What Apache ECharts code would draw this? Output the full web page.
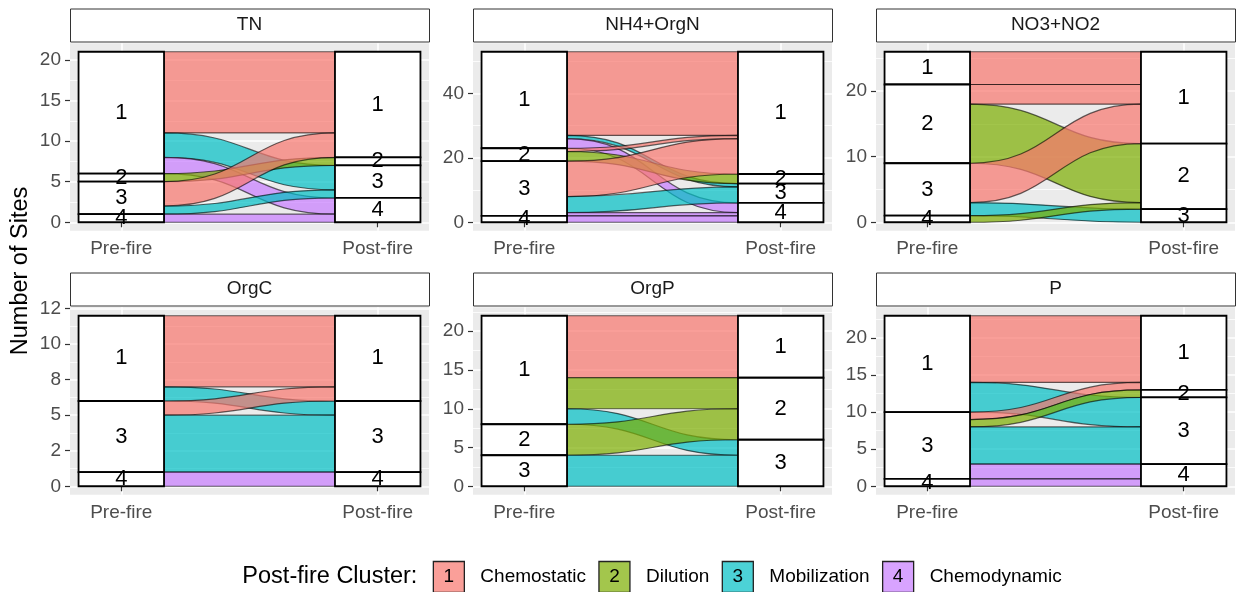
<!DOCTYPE html>
<html>
<head>
<meta charset="utf-8">
<script src="https://cdn.jsdelivr.net/npm/echarts@6/dist/echarts.min.js"></script>
<style>
  html, body { margin: 0; padding: 0; background: #ffffff; }
  #chart { width: 1236px; height: 592px; }
</style>
</head>
<body>
<div id="chart"></div>
<script>
// ---- data ----------------------------------------------------------------
const clusterIds = ['1', '2', '3', '4'];
const clusterNames = ['Chemostatic', 'Dilution', 'Mobilization', 'Chemodynamic'];
const stageLabels = ['Pre-fire', 'Post-fire'];
const facetNames = ['TN', 'NH4+OrgN', 'NO3+NO2', 'OrgC', 'OrgP', 'P'];

// number of sites going from each pre-fire cluster (rows 1..4)
// to each post-fire cluster (columns 1..4)
const movesTN   = [[10, 0, 3, 2], [0, 1, 0, 0], [3, 0, 1, 0], [0, 0, 0, 1]];
const movesNH4  = [[26, 0, 1, 3], [1, 3, 0, 0], [11, 0, 5, 1], [0, 0, 0, 2]];
const movesNO3  = [[5, 0, 0, 0], [3, 9, 0, 0], [6, 0, 2, 0], [0, 1, 0, 0]];
const movesOrgC = [[5, 0, 1, 0], [0, 0, 0, 0], [1, 0, 4, 0], [0, 0, 0, 1]];
const movesOrgP = [[8, 4, 2, 0], [0, 4, 0, 0], [0, 0, 4, 0], [0, 0, 0, 0]];
const movesP    = [[9, 0, 4, 0], [0, 0, 0, 0], [1, 1, 5, 2], [0, 0, 0, 1]];

// y-axis breaks and their printed labels
const ticksTN   = [0, 5, 10, 15, 20];
const ticksNH4  = [0, 20, 40];
const ticksNO3  = [0, 10, 20];
const ticksOrgC = [0, 2.5, 5, 7.5, 10, 12.5];
const tickLabelsOrgC = ['0', '2', '5', '8', '10', '12'];
const ticksOrgP = [0, 5, 10, 15, 20];
const ticksP    = [0, 5, 10, 15, 20];

// ---- styling & layout ----------------------------------------------------
const palette = ['#F8766D', '#7CAE00', '#00BFC4', '#C77CFF'];
const FONT = '"Liberation Sans", Arial, Helvetica, sans-serif';
const PANEL_BG = '#EBEBEB';
const colLeft = [70, 473, 876];
const rowTop = [43.2, 307.2];
const PANEL_W = 359;
const PANEL_H = 187.6;
const STRIP_H = 33;
const STRIP_GAP = 1.7;
const STRATUM_W = 1 / 3;
const TEXT_SIZE = 19;

function hexA(hex, a) {
  const n = parseInt(hex.slice(1), 16);
  return 'rgba(' + (n >> 16 & 255) + ',' + (n >> 8 & 255) + ',' + (n & 255) + ',' + a + ')';
}

const facets = [
  { moves: movesTN,   ticks: ticksTN,   labels: ticksTN.map(String) },
  { moves: movesNH4,  ticks: ticksNH4,  labels: ticksNH4.map(String) },
  { moves: movesNO3,  ticks: ticksNO3,  labels: ticksNO3.map(String) },
  { moves: movesOrgC, ticks: ticksOrgC, labels: tickLabelsOrgC },
  { moves: movesOrgP, ticks: ticksOrgP, labels: ticksOrgP.map(String) },
  { moves: movesP,    ticks: ticksP,    labels: ticksP.map(String) }
];

// Stack the strata (cluster 1 on top) and the flows inside them.
// item kinds: 0 = flow, 1 = stratum box, 2 = stratum label
function buildItems(m) {
  const n = m.length;
  const preTot = m.map(r => r.reduce((a, b) => a + b, 0));
  const postTot = m[0].map((_, j) => m.reduce((a, r) => a + r[j], 0));
  const preBase = [], postBase = [];
  let acc = 0;
  for (let k = n - 1; k >= 0; k--) { preBase[k] = acc; acc += preTot[k]; }
  const total = acc;
  acc = 0;
  for (let k = n - 1; k >= 0; k--) { postBase[k] = acc; acc += postTot[k]; }

  const flows = [], boxes = [], texts = [];
  for (let i = 0; i < n; i++) {
    for (let j = 0; j < n; j++) {
      const v = m[i][j];
      if (!v) continue;
      let lb = preBase[i];
      for (let jj = j + 1; jj < n; jj++) lb += m[i][jj];
      let rb = postBase[j];
      for (let ii = i + 1; ii < n; ii++) rb += m[ii][j];
      flows.push([0, lb, lb + v, rb, rb + v, j]);
    }
  }
  [[1, preTot, preBase], [2, postTot, postBase]].forEach(([x, tot, base]) => {
    for (let k = 0; k < n; k++) {
      if (!tot[k]) continue;
      boxes.push([1, x, base[k], base[k] + tot[k], k]);
      texts.push([2, x, base[k] + tot[k] / 2, 0, 0, k]);
    }
  });
  return { items: flows.concat(boxes, texts), total: total };
}

function renderItem(params, api) {
  const kind = api.value(0);
  if (kind === 0) {
    const x1 = 1 + STRATUM_W / 2, x2 = 2 - STRATUM_W / 2;
    const lt = api.coord([x1, api.value(2)]);
    const lb = api.coord([x1, api.value(1)]);
    const rt = api.coord([x2, api.value(4)]);
    const rb = api.coord([x2, api.value(3)]);
    const xm = (lt[0] + rt[0]) / 2;
    const d = 'M' + lt[0] + ' ' + lt[1] +
      ' C' + xm + ' ' + lt[1] + ' ' + xm + ' ' + rt[1] + ' ' + rt[0] + ' ' + rt[1] +
      ' L' + rb[0] + ' ' + rb[1] +
      ' C' + xm + ' ' + rb[1] + ' ' + xm + ' ' + lb[1] + ' ' + lb[0] + ' ' + lb[1] + ' Z';
    const c = api.value(5);
    return {
      type: 'path',
      shape: { pathData: d },
      style: { fill: hexA(palette[c], 0.7), stroke: 'rgba(0,0,0,0.6)', lineWidth: 1.2 }
    };
  }
  if (kind === 1) {
    const x = api.value(1);
    const p0 = api.coord([x - STRATUM_W / 2, api.value(3)]);
    const p1 = api.coord([x + STRATUM_W / 2, api.value(2)]);
    return {
      type: 'rect',
      shape: { x: p0[0], y: p0[1], width: p1[0] - p0[0], height: p1[1] - p0[1] },
      style: { fill: '#ffffff', stroke: '#000000', lineWidth: 1.8 }
    };
  }
  const p = api.coord([api.value(1), api.value(2)]);
  return {
    type: 'text',
    x: p[0], y: p[1],
    style: {
      text: clusterIds[api.value(5)], fill: '#000000',
      fontSize: 22, fontFamily: FONT, align: 'center', verticalAlign: 'middle'
    }
  };
}

function minorBreaks(ticks, lo, hi) {
  const step = ticks[1] - ticks[0];
  const out = [];
  for (let v = ticks[0] - step / 2; v <= hi; v += step) {
    if (v >= lo) out.push(v);
  }
  return out;
}

const grid = [], xAxis = [], yAxis = [], series = [], graphic = [];

facets.forEach((f, idx) => {
  const col = idx % 3, row = Math.floor(idx / 3);
  const built = buildItems(f.moves);
  const lo = -0.05 * built.total, hi = 1.05 * built.total;
  grid.push({
    left: colLeft[col], top: rowTop[row], width: PANEL_W, height: PANEL_H,
    show: true, backgroundColor: PANEL_BG, borderWidth: 0, containLabel: false,
    outerBoundsMode: 'none'
  });
  xAxis.push({
    gridIndex: idx, type: 'value', min: 0.8, max: 2.2,
    axisLine: { show: false },
    axisTick: { show: true, customValues: [1, 2], length: 5, lineStyle: { color: '#333333', width: 1.2 } },
    axisLabel: {
      customValues: [1, 2], formatter: v => stageLabels[Math.round(v) - 1],
      color: '#4D4D4D', fontSize: TEXT_SIZE, fontFamily: FONT, margin: 8
    },
    splitLine: { show: true, lineStyle: { color: '#ffffff', width: 1.6 } }
  });
  yAxis.push({
    gridIndex: idx, type: 'value', min: lo, max: hi,
    axisLine: { show: false },
    axisTick: { show: true, customValues: f.ticks, length: 5, lineStyle: { color: '#333333', width: 1.2 } },
    axisLabel: {
      customValues: f.ticks,
      formatter: v => f.labels[f.ticks.indexOf(v)] ?? String(v),
      color: '#4D4D4D', fontSize: TEXT_SIZE, fontFamily: FONT, margin: 9
    },
    splitLine: { show: true, lineStyle: { color: '#ffffff', width: 1.6 } }
  });
  // minor grid lines half way between the breaks
  yAxis.push({
    gridIndex: idx, type: 'value', min: lo, max: hi, position: 'left',
    axisLine: { show: false },
    axisTick: { show: false, customValues: minorBreaks(f.ticks, lo, hi) },
    axisLabel: { show: false },
    splitLine: { show: true, lineStyle: { color: '#ffffff', width: 0.8 } }
  });
  series.push({
    type: 'custom',
    xAxisIndex: idx,
    yAxisIndex: yAxis.length - 2,
    renderItem: renderItem,
    data: built.items,
    silent: true,
    clip: false
  });

  // facet strip
  const sx = colLeft[col], sy = rowTop[row] - STRIP_GAP - STRIP_H;
  graphic.push({
    type: 'rect', left: sx, top: sy,
    shape: { width: PANEL_W, height: STRIP_H },
    style: { fill: '#ffffff', stroke: '#333333', lineWidth: 1 }
  });
  graphic.push({
    type: 'text', x: sx + PANEL_W / 2, y: sy + STRIP_H / 2,
    style: {
      text: facetNames[idx], fill: '#1A1A1A', fontSize: TEXT_SIZE, fontFamily: FONT,
      align: 'center', verticalAlign: 'middle'
    }
  });
});

// y axis title
graphic.push({
  type: 'text', x: 21, y: 271, rotation: Math.PI / 2,
  style: {
    text: 'Number of Sites', fill: '#000000', fontSize: 23.5, fontFamily: FONT,
    align: 'center', verticalAlign: 'middle'
  }
});

// legend along the bottom
(function legend() {
  const ctx = document.createElement('canvas').getContext('2d');
  const measure = (t, s) => { ctx.font = s + 'px ' + FONT; return ctx.measureText(t).width; };
  const title = 'Post-fire Cluster:';
  const KEY = 31, GAP_T = 16, GAP_K = 16, GAP_ITEM = 13;
  const TS = 23.5;
  let w = measure(title, TS) + GAP_T;
  clusterNames.forEach((nm, i) => {
    w += KEY + GAP_K + measure(nm, TEXT_SIZE) + (i < clusterNames.length - 1 ? GAP_ITEM : 0);
  });
  const cy = 577;
  let x = 652 - w / 2;
  graphic.push({
    type: 'text', x: x, y: cy,
    style: { text: title, fill: '#000000', fontSize: TS, fontFamily: FONT, align: 'left', verticalAlign: 'middle' }
  });
  x += measure(title, TS) + GAP_T;
  clusterNames.forEach((nm, i) => {
    graphic.push({
      type: 'rect', x: x, y: cy - KEY / 2,
      shape: { x: 0, y: 0, width: KEY, height: KEY },
      style: { fill: hexA(palette[i], 0.7), stroke: '#222222', lineWidth: 1.3 }
    });
    graphic.push({
      type: 'text', x: x + KEY / 2, y: cy,
      style: { text: clusterIds[i], fill: '#000000', fontSize: TEXT_SIZE, fontFamily: FONT, align: 'center', verticalAlign: 'middle' }
    });
    x += KEY + GAP_K;
    graphic.push({
      type: 'text', x: x, y: cy,
      style: { text: nm, fill: '#000000', fontSize: TEXT_SIZE, fontFamily: FONT, align: 'left', verticalAlign: 'middle' }
    });
    x += measure(nm, TEXT_SIZE) + GAP_ITEM;
  });
})();

const chart = echarts.init(document.getElementById('chart'), null, { renderer: 'canvas' });
chart.setOption({
  animation: false,
  backgroundColor: '#ffffff',
  grid: grid,
  xAxis: xAxis,
  yAxis: yAxis,
  series: series,
  graphic: graphic
});
</script>
</body>
</html>
